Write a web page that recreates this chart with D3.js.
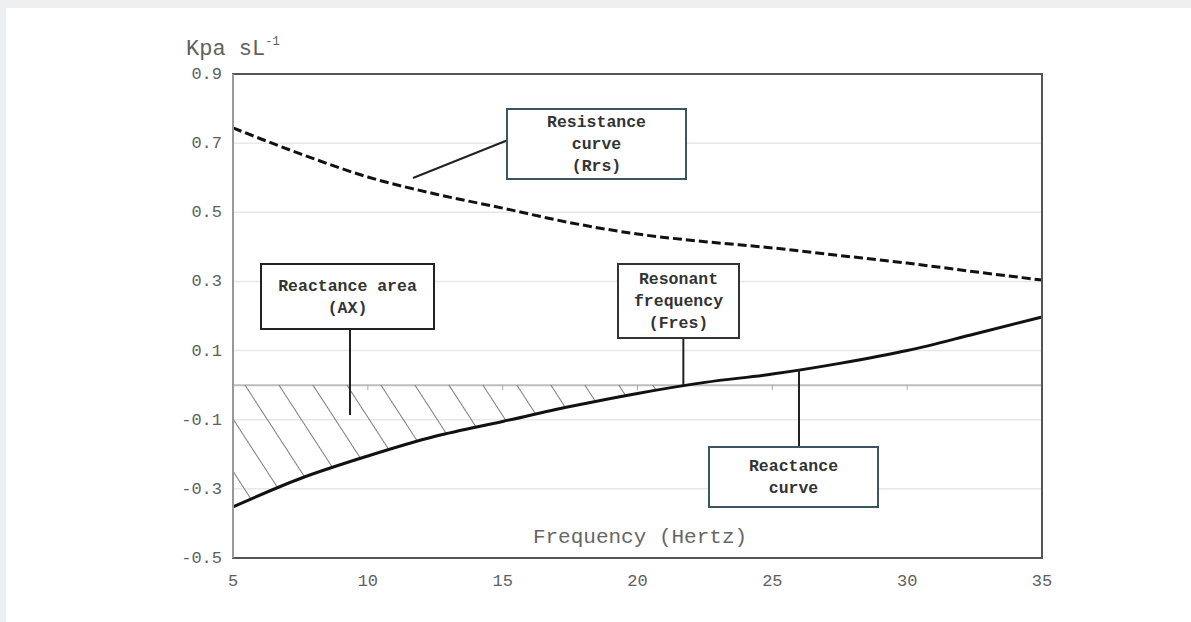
<!DOCTYPE html>
<html>
<head>
<meta charset="utf-8">
<script src="https://cdn.jsdelivr.net/npm/d3@7"></script>
<style>
  html, body { margin: 0; padding: 0; background: #eeeff1; }
  svg { display: block; }
</style>
</head>
<body>
<div id="chart"></div>
<script>
var width = 1191,
    height = 622;

// data
var freq        = [5, 7.5, 10, 12.5, 15, 17.5, 20, 22.5, 25, 27.5, 30, 32.5, 35];
var resistance  = [0.744, 0.669, 0.602, 0.553, 0.512, 0.470, 0.437, 0.415, 0.397, 0.375, 0.353, 0.328, 0.304];
var reactance   = [-0.352, -0.27, -0.205, -0.148, -0.105, -0.062, -0.024, 0.008, 0.032, 0.063, 0.100, 0.148, 0.197];
var fres = 21.7;
var xTicks = [5, 10, 15, 20, 25, 30, 35];
var yTicks = [0.9, 0.7, 0.5, 0.3, 0.1, -0.1, -0.3, -0.5];

var mono = "'Liberation Mono', 'Courier New', monospace";

var svg = d3.select("#chart").append("svg")
    .attr("width", width)
    .attr("height", height);

svg.append("rect")
    .attr("x", 6).attr("y", 8)
    .attr("width", width - 6).attr("height", height - 8)
    .attr("fill", "#fff");

var x = d3.scaleLinear().domain([5, 35]).range([233, 1042]);
var y = d3.scaleLinear().domain([-0.5, 0.9]).range([558, 74]);

var rrs = freq.map(function(f, i) { return [f, resistance[i]]; });
var xrs = freq.map(function(f, i) { return [f, reactance[i]]; });

// grid
svg.append("g")
  .selectAll("line")
  .data(yTicks.filter(function(d) { return d > -0.5 && d < 0.9; }))
  .enter().append("line")
    .attr("x1", x(5)).attr("x2", x(35))
    .attr("y1", function(d) { return y(d); })
    .attr("y2", function(d) { return y(d); })
    .attr("stroke", "#e8e8e8")
    .attr("stroke-width", 1.5);

// zero line with its little ticks
svg.append("line")
    .attr("x1", x(5)).attr("x2", x(35))
    .attr("y1", y(0)).attr("y2", y(0))
    .attr("stroke", "#bdbdbd")
    .attr("stroke-width", 2);

svg.append("g")
  .selectAll("line")
  .data(xTicks.slice(1, -1))
  .enter().append("line")
    .attr("x1", function(d) { return x(d); })
    .attr("x2", function(d) { return x(d); })
    .attr("y1", y(0)).attr("y2", y(0) + 5)
    .attr("stroke", "#aaa")
    .attr("stroke-width", 1);

// hatched reactance area
var defs = svg.append("defs");
defs.append("pattern")
    .attr("id", "hatch")
    .attr("patternUnits", "userSpaceOnUse")
    .attr("width", 28.5).attr("height", 28.5)
    .attr("patternTransform", "translate(245,386) rotate(-33)")
  .append("line")
    .attr("x1", 0).attr("y1", 0)
    .attr("x2", 0).attr("y2", 28.5)
    .attr("stroke", "#444")
    .attr("stroke-width", 1.4);

defs.append("clipPath")
    .attr("id", "clipAX")
  .append("rect")
    .attr("x", x(5)).attr("y", y(0.9))
    .attr("width", x(fres) - x(5))
    .attr("height", y(-0.5) - y(0.9));

var area = d3.area()
    .curve(d3.curveMonotoneX)
    .x(function(d) { return x(d[0]); })
    .y0(y(0))
    .y1(function(d) { return y(d[1]); });

svg.append("path")
    .datum(xrs)
    .attr("clip-path", "url(#clipAX)")
    .attr("fill", "url(#hatch)")
    .attr("d", area);

// curves
var line = d3.line()
    .curve(d3.curveMonotoneX)
    .x(function(d) { return x(d[0]); })
    .y(function(d) { return y(d[1]); });

svg.append("path")
    .datum(rrs)
    .attr("fill", "none")
    .attr("stroke", "#111")
    .attr("stroke-width", 3)
    .attr("stroke-dasharray", "9,4")
    .attr("d", line);

svg.append("path")
    .datum(xrs)
    .attr("fill", "none")
    .attr("stroke", "#111")
    .attr("stroke-width", 3)
    .attr("d", line);

// frame
svg.append("rect")
    .attr("x", x(5)).attr("y", y(0.9))
    .attr("width", x(35) - x(5))
    .attr("height", y(-0.5) - y(0.9))
    .attr("fill", "none")
    .attr("stroke", "#555")
    .attr("stroke-width", 2);
svg.append("line")
    .attr("x1", x(5)).attr("x2", x(5))
    .attr("y1", y(0.9)).attr("y2", y(-0.5))
    .attr("stroke", "#999")
    .attr("stroke-width", 2);

// tick labels
svg.append("g")
  .selectAll("text")
  .data(yTicks)
  .enter().append("text")
    .attr("x", 222)
    .attr("y", function(d) { return y(d) + 5; })
    .attr("text-anchor", "end")
    .attr("font-family", mono)
    .attr("font-size", 17)
    .attr("fill", "#606060")
    .text(function(d) { return d3.format(".1f")(d).replace("−", "-"); });

svg.append("g")
  .selectAll("text")
  .data(xTicks)
  .enter().append("text")
    .attr("x", function(d) { return x(d); })
    .attr("y", 586)
    .attr("text-anchor", "middle")
    .attr("font-family", mono)
    .attr("font-size", 17)
    .attr("fill", "#606060")
    .text(function(d) { return d; });

// axis titles
var unit = svg.append("text")
    .attr("x", 186).attr("y", 55)
    .attr("font-family", mono)
    .attr("font-size", 22)
    .attr("fill", "#606060")
    .text("Kpa sL");
unit.append("tspan")
    .attr("font-size", 12)
    .attr("dy", -10)
    .text("-1");

svg.append("text")
    .attr("x", 640).attr("y", 543)
    .attr("text-anchor", "middle")
    .attr("font-family", mono)
    .attr("font-size", 21)
    .attr("fill", "#666")
    .text("Frequency (Hertz)");

// callouts: box, text lines, leader line
var notes = [
  { lines: ["Resistance", "curve", "(Rrs)"], box: [507, 109, 179, 70], stroke: "#3d5563",
    lead: [[413, 178], [508, 140]] },
  { lines: ["Reactance area", "(AX)"], box: [261, 264, 173, 65], stroke: "#222",
    lead: [[350, 329], [350, 415]] },
  { lines: ["Resonant", "frequency", "(Fres)"], box: [618, 264, 121, 74], stroke: "#333",
    lead: [[x(fres), 338], [x(fres), y(0)]] },
  { lines: ["Reactance", "curve"], box: [709, 447, 169, 60], stroke: "#3d5563",
    lead: [[799, 447], [799, 369]] }
];

var note = svg.append("g").selectAll("g")
    .data(notes)
    .enter().append("g");

note.append("line")
    .attr("x1", function(d) { return d.lead[0][0]; })
    .attr("y1", function(d) { return d.lead[0][1]; })
    .attr("x2", function(d) { return d.lead[1][0]; })
    .attr("y2", function(d) { return d.lead[1][1]; })
    .attr("stroke", "#222")
    .attr("stroke-width", 2);

note.append("rect")
    .attr("x", function(d) { return d.box[0]; })
    .attr("y", function(d) { return d.box[1]; })
    .attr("width", function(d) { return d.box[2]; })
    .attr("height", function(d) { return d.box[3]; })
    .attr("fill", "#fff")
    .attr("stroke", function(d) { return d.stroke; })
    .attr("stroke-width", 2);

note.each(function(d) {
  var g = d3.select(this);
  var n = d.lines.length;
  var cx = d.box[0] + d.box[2] / 2,
      cy = d.box[1] + d.box[3] / 2;
  g.selectAll("text")
    .data(d.lines)
    .enter().append("text")
      .attr("x", cx)
      .attr("y", function(t, i) { return cy + (i - (n - 1) / 2) * 22 + 5; })
      .attr("text-anchor", "middle")
      .attr("font-family", mono)
      .attr("font-weight", "bold")
      .attr("font-size", 16.5)
      .attr("fill", "#333")
      .text(function(t) { return t; });
});
</script>
</body>
</html>
